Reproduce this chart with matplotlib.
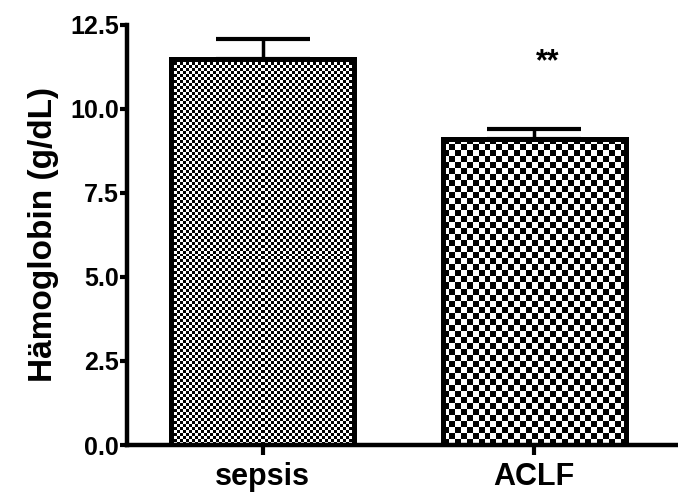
import numpy as np
import matplotlib
matplotlib.use("Agg")
import matplotlib.pyplot as plt

categories = ["sepsis", "ACLF"]
means = [11.48, 9.12]
sem = [0.6, 0.27]
checker_px = [3, 6]          # checker square size in pixels for each bar
y_ticks = [0.0, 2.5, 5.0, 7.5, 10.0, 12.5]
y_label = "Hämoglobin (g/dL)"
signif = ["", "**"]

plt.rcParams['font.family'] = ['Liberation Sans', 'DejaVu Sans']
plt.rcParams['font.weight'] = 'bold'

fig = plt.figure(figsize=(6.78, 4.94), dpi=100)
ax = fig.add_axes([127/678, 49/494, (678-127)/678, 420/494])

x = np.arange(len(categories))
width = 0.675
ax.set_xlim(-0.5, 1.53)
ax.set_ylim(0, 12.5)

bars = ax.bar(x, means, width=width, facecolor='none', edgecolor='black',
              linewidth=3.6, zorder=3)

fig.canvas.draw()
for b, cp in zip(bars, checker_px):
    bb = b.get_window_extent()
    nx = max(1, int(round(bb.width / cp)))
    ny = max(1, int(round(bb.height / cp)))
    board = (np.add.outer(np.arange(ny), np.arange(nx)) % 2).astype(float)
    x0, y0 = b.get_x(), b.get_y()
    im = ax.imshow(board, cmap='gray', vmin=0, vmax=1, interpolation='nearest',
                   extent=[x0, x0 + b.get_width(), y0, y0 + b.get_height()],
                   aspect='auto', zorder=2.5, origin='lower')

ax.set_xlim(-0.5, 1.53)
ax.set_ylim(0, 12.5)

ax.errorbar(x, means, yerr=[np.zeros(len(sem)), sem], fmt='none', ecolor='black',
            elinewidth=2.5, capsize=34, capthick=3, zorder=2)

for xi, m, s, t in zip(x, means, sem, signif):
    if t:
        ax.text(xi + 0.05, 10.95, t, ha='center', va='bottom', fontsize=22,
                fontweight='bold')

for sp in ['top', 'right']:
    ax.spines[sp].set_visible(False)
for sp in ['left', 'bottom']:
    ax.spines[sp].set_linewidth(3.2)
ax.spines['bottom'].set_zorder(4)

ax.set_xticks(x)
ax.set_xticklabels(categories, fontsize=22, fontweight='bold')
ax.set_yticks(y_ticks)
ax.set_yticklabels([f"{v:.1f}" for v in y_ticks], fontsize=18, fontweight='bold')
ax.tick_params(axis='y', length=5, width=3, pad=1)
ax.tick_params(axis='x', length=7, width=3, pad=5)
ax.set_ylabel(y_label, fontsize=24, fontweight='bold', labelpad=8)

fig.savefig("out.png", dpi=100)
